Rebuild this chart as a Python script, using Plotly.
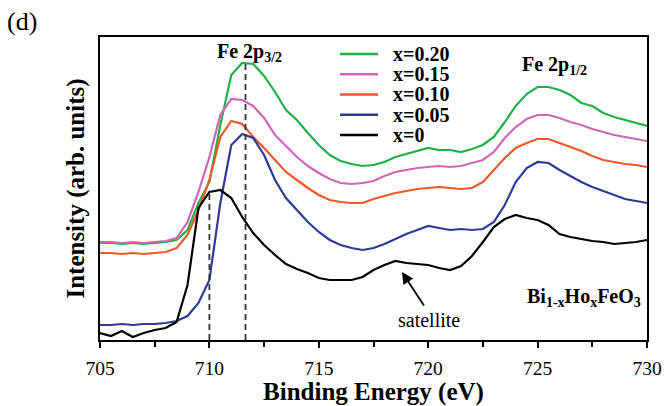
import plotly.graph_objects as go

# Binding energy grid (eV)
energy = [705.0, 705.5, 706.0, 706.5, 707.0, 707.5, 708.0, 708.5, 709.0, 709.5,
          710.0, 710.5, 711.0, 711.5, 712.0, 712.5, 713.0, 713.5, 714.0, 714.5,
          715.0, 715.5, 716.0, 716.5, 717.0, 717.5, 718.0, 718.5, 719.0, 719.5,
          720.0, 720.5, 721.0, 721.5, 722.0, 722.5, 723.0, 723.5, 724.0, 724.5,
          725.0, 725.5, 726.0, 726.5, 727.0, 727.5, 728.0, 728.5, 729.0, 729.5,
          730.0]

# Intensities (arb. units)
int_x020 = [97, 97, 96, 97, 96, 97, 98, 100, 110, 137,
            158, 215, 265, 277, 276, 264, 248, 230, 220, 207,
            195, 185, 179, 176, 174, 175, 178, 183, 186, 189,
            192, 190, 190, 188, 191, 195, 203, 218, 234, 246,
            253, 253, 250, 245, 237, 234, 227, 223, 220, 217,
            214]
int_x015 = [98, 98, 97, 98, 97, 98, 99, 102, 118, 148,
            183, 225, 241, 240, 234, 222, 205, 194, 183, 174,
            167, 161, 157, 156, 157, 159, 164, 168, 170, 172,
            173, 174, 173, 174, 177, 180, 188, 202, 213, 221,
            225, 225, 222, 218, 215, 211, 208, 205, 203, 201,
            199]
int_x010 = [87, 87, 86, 87, 86, 87, 88, 92, 105, 130,
            160, 203, 219, 216, 203, 192, 180, 168, 160, 152,
            145, 140, 138, 137, 137, 141, 144, 147, 149, 151,
            152, 153, 152, 151, 152, 158, 170, 182, 192, 197,
            201, 201, 197, 193, 189, 184, 180, 178, 176, 175,
            173]
int_x005 = [15, 15, 16, 15, 16, 16, 17, 19, 24, 37,
            60, 137, 195, 206, 202, 185, 160, 142, 130, 118,
            108, 100, 95, 92, 90, 92, 96, 101, 106, 110,
            114, 112, 110, 111, 110, 111, 118, 135, 158, 172,
            178, 177, 170, 164, 158, 153, 149, 145, 141, 139,
            137]
int_x000 = [7, 4, 9, 3, 7, 10, 12, 18, 55, 132,
            148, 150, 142, 123, 107, 95, 85, 76, 71, 67,
            62, 60, 60, 60, 63, 70, 75, 79, 77, 76,
            75, 72, 70, 74, 84, 98, 113, 121, 125, 122,
            120, 115, 106, 103, 101, 99, 98, 96, 97, 98,
            100]

series_names = ["x=0.20", "x=0.15", "x=0.10", "x=0.05", "x=0"]
series_colors = ["#1fb04a", "#d066b8", "#ef5a2a", "#2e3a96", "#000000"]
series_values = [int_x020, int_x015, int_x010, int_x005, int_x000]

FONT = "Liberation Serif"

fig = go.Figure()
for name, color, vals in zip(series_names, series_colors, series_values):
    fig.add_trace(go.Scatter(x=energy, y=vals, mode="lines", name=name,
                             line=dict(color=color, width=2.2),
                             showlegend=False))

shapes = []
annotations = []

# manual legend (compact rows like the original)
for i, (name, color) in enumerate(zip(series_names, series_colors)):
    yy = 0.944 - i * 0.0668
    shapes.append(dict(type="line", xref="paper", yref="paper",
                       x0=0.4388, x1=0.5082, y0=yy, y1=yy,
                       line=dict(color=color, width=2.5)))
    annotations.append(dict(xref="paper", yref="paper", x=0.532, y=yy,
                            xanchor="left", yanchor="middle",
                            text="<b>%s</b>" % name, showarrow=False,
                            font=dict(family=FONT, size=20, color="black")))

# dashed peak markers
shapes.append(dict(type="line", xref="x", yref="y", x0=710.0, x1=710.0, y0=0, y1=150,
                   line=dict(color="#333333", width=1.8, dash="6px,4px")))
shapes.append(dict(type="line", xref="x", yref="y", x0=711.65, x1=711.65, y0=0, y1=278,
                   line=dict(color="#333333", width=1.8, dash="6px,4px")))

annotations += [
    dict(xref="paper", yref="paper", x=-0.143, y=1.05, text="(d)", showarrow=False,
         xanchor="center", yanchor="middle", font=dict(family=FONT, size=26, color="black")),
    dict(xref="x", yref="y", x=711.85, y=288, text="<b>Fe 2p<sub>3/2</sub></b>", showarrow=False,
         xanchor="center", yanchor="middle", font=dict(family=FONT, size=20, color="black")),
    dict(xref="x", yref="y", x=725.75, y=275, text="<b>Fe 2p<sub>1/2</sub></b>", showarrow=False,
         xanchor="center", yanchor="middle", font=dict(family=FONT, size=20, color="black")),
    dict(xref="x", yref="y", x=729.82, y=43,
         text="<b>Bi<sub>1-x</sub>Ho<sub>x</sub>FeO<sub>3</sub></b>", showarrow=False,
         xanchor="right", yanchor="middle", font=dict(family=FONT, size=20, color="black")),
    # arrow pointing at the satellite feature
    dict(xref="x", yref="y", x=718.8, y=68, axref="x", ayref="y", ax=719.85, ay=33,
         text="", showarrow=True, arrowhead=2, arrowsize=1.3, arrowwidth=1.8,
         arrowcolor="black"),
    dict(xref="x", yref="y", x=720.05, y=20, text="satellite", showarrow=False,
         xanchor="center", yanchor="middle", font=dict(family=FONT, size=20, color="black")),
]

fig.update_layout(
    width=665, height=406,
    margin=dict(l=100, r=18, t=37, b=66, autoexpand=False),
    paper_bgcolor="white", plot_bgcolor="white",
    showlegend=False,
    shapes=shapes, annotations=annotations,
    font=dict(family=FONT, color="black"),
    xaxis=dict(range=[705, 730], tick0=705, dtick=5, ticks="outside", ticklen=6,
               tickwidth=1.5, tickcolor="black", showline=True, linecolor="black",
               linewidth=1.5, mirror=True, showgrid=False, zeroline=False,
               automargin=False, ticklabelstandoff=4,
               tickfont=dict(family=FONT, size=19.5, color="black"),
               minor=dict(dtick=2.5, tick0=705, ticks="outside", ticklen=5, tickwidth=1.5,
                          tickcolor="black", showgrid=False),
               title=dict(text="<b>Binding Energy (eV)</b>", standoff=2,
                          font=dict(family=FONT, size=25, color="black"))),
    yaxis=dict(range=[0, 303], showticklabels=False, ticks="", showline=True,
               linecolor="black", linewidth=1.5, mirror=True, showgrid=False,
               zeroline=False, automargin=False,
               title=dict(text="<b>Intensity (arb. units)</b>", standoff=7,
                          font=dict(family=FONT, size=25, color="black"))),
)

# remove the default page margin so the figure fills the window exactly
fig.write_html("out.html", config={"displayModeBar": False},
               post_script="document.body.style.margin='0';document.body.style.overflow='hidden';")
